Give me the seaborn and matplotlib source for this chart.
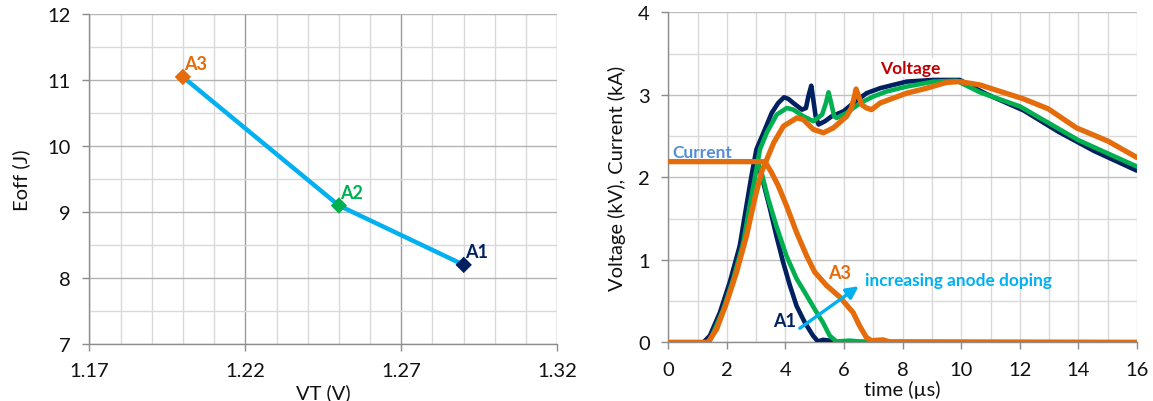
import matplotlib
matplotlib.use("Agg")
import matplotlib.pyplot as plt
from matplotlib.ticker import MultipleLocator, FixedLocator
import seaborn as sns
import pandas as pd

# ---------------- data: left panel ----------------
devices = ["A1", "A2", "A3"]
vt = [1.29, 1.25, 1.20]
eoff = [8.20, 9.10, 11.05]

# ---------------- data: right panel (time in µs, kV / kA) ----------------
t_v_a1 = [0, 1.2, 1.42, 1.76, 2.1, 2.44, 2.67, 2.84, 3.01, 3.25, 3.53, 3.75, 3.95, 4.1, 4.27,
          4.56, 4.7, 4.78, 4.88, 4.95, 5.03, 5.13, 5.35, 5.58, 5.98, 6.32, 6.77, 7.23, 7.68,
          8.14, 9.05, 9.95, 10.64, 10.92, 12.13, 13.33, 14.53, 16.0]
v_a1 = [0, 0, 0.08, 0.36, 0.73, 1.17, 1.66, 2.02, 2.34, 2.54, 2.78, 2.9, 2.97, 2.95, 2.9,
        2.82, 2.84, 2.98, 3.11, 2.94, 2.74, 2.64, 2.68, 2.74, 2.8, 2.9, 3.02, 3.08, 3.12,
        3.16, 3.18, 3.18, 3.05, 3.0, 2.81, 2.55, 2.32, 2.08]

t_v_a2 = [0, 1.3, 1.42, 1.88, 2.22, 2.56, 2.78, 2.95, 3.13, 3.36, 3.7, 4.05, 4.27, 4.61, 4.95,
          5.25, 5.38, 5.47, 5.56, 5.66, 5.75, 6.09, 6.55, 7.0, 7.45, 8.14, 9.05, 9.84, 10.64,
          12.0, 14.0, 16.0]
v_a2 = [0, 0, 0.02, 0.4, 0.77, 1.21, 1.66, 1.98, 2.34, 2.54, 2.76, 2.84, 2.82, 2.74, 2.68,
        2.76, 2.9, 3.03, 2.9, 2.74, 2.72, 2.78, 2.9, 2.98, 3.04, 3.1, 3.16, 3.17, 3.03,
        2.86, 2.45, 2.13]

t_v_a3 = [0, 1.36, 1.65, 1.99, 2.33, 2.67, 2.95, 3.18, 3.4, 3.6, 3.93, 4.39, 4.61, 4.95, 5.3,
          5.64, 6.09, 6.25, 6.34, 6.41, 6.5, 6.6, 6.77, 6.94, 7.23, 7.68, 8.14, 8.82, 9.5,
          9.95, 10.64, 10.9, 12.13, 12.97, 13.93, 15.0, 16.0]
v_a3 = [0, 0, 0.16, 0.48, 0.85, 1.29, 1.74, 2.06, 2.25, 2.42, 2.62, 2.72, 2.7, 2.58, 2.54,
        2.6, 2.74, 2.84, 2.96, 3.07, 2.98, 2.88, 2.84, 2.82, 2.9, 2.96, 3.02, 3.08, 3.15,
        3.16, 3.12, 3.09, 2.95, 2.83, 2.6, 2.44, 2.24]

t_i_a1 = [0, 3.0, 3.1, 3.24, 3.47, 3.69, 3.92, 4.15, 4.38, 4.66, 4.94, 5.11, 5.28, 5.51, 5.68, 16.0]
i_a1 = [2.19, 2.19, 2.12, 1.94, 1.62, 1.29, 0.97, 0.69, 0.44, 0.24, 0.08, 0.01, 0.03, 0.02, 0.0, 0.0]

t_i_a2 = [0, 3.05, 3.18, 3.41, 3.69, 4.03, 4.38, 4.72, 5.0, 5.28, 5.51, 5.74, 6.19, 6.53, 16.0]
i_a2 = [2.19, 2.19, 2.06, 1.74, 1.41, 1.05, 0.77, 0.57, 0.4, 0.24, 0.08, 0.01, 0.02, 0.01, 0.0]

t_i_a3 = [0, 3.3, 3.52, 3.75, 4.03, 4.38, 4.72, 5.0, 5.4, 5.85, 6.31, 6.53, 6.76, 6.93, 7.33, 7.6, 16.0]
i_a3 = [2.19, 2.19, 2.06, 1.9, 1.66, 1.33, 1.05, 0.85, 0.69, 0.55, 0.36, 0.2, 0.06, 0.02, 0.03, 0.0, 0.0]

# ---------------- style ----------------
C_A1 = "#002060"
C_A2 = "#00B050"
C_A3 = "#E46C0A"
C_LINE = "#00B0F0"
dev_colors = {"A1": C_A1, "A2": C_A2, "A3": C_A3}

sns.set_theme(style="white")
plt.rcParams["font.family"] = ["Lato", "DejaVu Sans"]
plt.rcParams["axes.unicode_minus"] = False

fig = plt.figure(figsize=(11.53, 4.02), dpi=100)
W, H = 1153, 402
axL = fig.add_axes([89.3 / W, 1 - 345 / H, (557.3 - 89.3) / W, (345 - 15.3) / H])
axR = fig.add_axes([668.3 / W, 1 - 343.3 / H, (1137 - 668.3) / W, (343.3 - 13.3) / H])

TICK_C = "#111111"
SPINE_C = "#8c8c8c"
FS = 14.5


def style_axes(ax, xmaj, xmin, ymaj, ymin, xmaj_c, xmin_c, ymaj_c, ymin_c):
    ax.xaxis.set_major_locator(xmaj)
    ax.xaxis.set_minor_locator(xmin)
    ax.yaxis.set_major_locator(ymaj)
    ax.yaxis.set_minor_locator(ymin)
    ax.grid(False)
    ax.set_axisbelow(True)
    ax.grid(which="major", axis="x", color=xmaj_c, lw=1.0, zorder=0)
    ax.grid(which="minor", axis="x", color=xmin_c, lw=1.0, zorder=0)
    ax.grid(which="major", axis="y", color=ymaj_c, lw=1.0, zorder=0)
    ax.grid(which="minor", axis="y", color=ymin_c, lw=1.0, zorder=0)
    for s in ["top", "right"]:
        ax.spines[s].set_visible(False)
    for s in ["left", "bottom"]:
        ax.spines[s].set_color(SPINE_C)
        ax.spines[s].set_linewidth(1.0)
    ax.tick_params(which="major", direction="out", length=4.8, width=1.0, color=SPINE_C,
                   labelsize=FS, labelcolor=TICK_C, pad=8.5, bottom=True, left=True)
    ax.tick_params(which="minor", length=0)


# ---------------- left panel ----------------
dfL = pd.DataFrame({"VT": vt, "Eoff": eoff, "dev": devices})
sns.lineplot(data=dfL, x="VT", y="Eoff", sort=False, estimator=None, color=C_LINE,
             lw=3.2, ax=axL, zorder=3)
sns.scatterplot(data=dfL, x="VT", y="Eoff", hue="dev", palette=dev_colors, marker="D",
                s=70, edgecolor="none", legend=False, ax=axL, zorder=4)
axL.set_xlim(1.17, 1.32)
axL.set_ylim(7, 12)
style_axes(axL, FixedLocator([1.17, 1.22, 1.27, 1.32]), MultipleLocator(0.01),
           MultipleLocator(1), MultipleLocator(0.5),
           "#9a9a9a", "#d9d9d9", "#b3b3b3", "#d9d9d9")
axL.set_xticklabels(["1.17", "1.22", "1.27", "1.32"])
axL.set_xlabel("VT (V)", fontsize=FS, color=TICK_C, va="center")
axL.set_ylabel("Eoff (J)", fontsize=FS, color=TICK_C, va="center")
axL.xaxis.set_label_coords(0.5, -0.146)
axL.yaxis.set_label_coords(-0.146, 0.5)

for d, x, y in zip(devices, vt, eoff):
    axL.annotate(d, (x, y), xytext=(1, 9.5), textcoords="offset points",
                 ha="left", va="center", fontsize=13, fontweight="bold",
                 color=dev_colors[d], zorder=5)

# ---------------- right panel ----------------
curves = [
    (t_v_a1, v_a1, C_A1, 3.3), (t_i_a1, i_a1, C_A1, 3.3),
    (t_v_a2, v_a2, C_A2, 3.3), (t_i_a2, i_a2, C_A2, 3.3),
    (t_v_a3, v_a3, C_A3, 3.8), (t_i_a3, i_a3, C_A3, 3.8),
]
for k, (tt, yy, c, w) in enumerate(curves):
    sns.lineplot(x=tt, y=yy, sort=False, estimator=None, color=c, lw=w, ax=axR,
                 zorder=3 + k * 0.1)
axR.set_xlim(0, 16)
axR.set_ylim(0, 4)
style_axes(axR, MultipleLocator(2), MultipleLocator(1),
           MultipleLocator(1), MultipleLocator(0.5),
           "#d9d9d9", "#d9d9d9", "#bfbfbf", "#d9d9d9")
axR.set_xlabel("time (µs)", fontsize=FS, color=TICK_C, va="center")
axR.set_ylabel("Voltage (kV), Current (kA)", fontsize=FS, color=TICK_C, va="center")
axR.xaxis.set_label_coords(0.5, -0.1415)
axR.yaxis.set_label_coords(-0.109, 0.5)

axR.text(7.23, 3.33, "Voltage", fontsize=12.5, fontweight="bold", color="#C00000",
         ha="left", va="center", zorder=6,
         bbox=dict(facecolor="white", edgecolor="none", pad=1.0))
axR.text(0.14, 2.31, "Current", fontsize=12.5, fontweight="bold", color="#558ED5",
         ha="left", va="center", zorder=6)
axR.text(5.45, 0.84, "A3", fontsize=13, fontweight="bold", color=C_A3,
         ha="left", va="center", zorder=6)
axR.text(3.58, 0.26, "A1", fontsize=13, fontweight="bold", color=C_A1,
         ha="left", va="center", zorder=6)
axR.text(6.71, 0.76, "increasing anode doping", fontsize=12.4, fontweight="bold",
         color=C_LINE, ha="left", va="center", zorder=6)
axR.annotate("", xy=(6.5, 0.68), xytext=(4.49, 0.17),
             arrowprops=dict(arrowstyle="-|>,head_length=0.6,head_width=0.3",
                             color=C_LINE, lw=2.4, shrinkA=0, shrinkB=0), zorder=6)

fig.savefig("out.png", dpi=100)
